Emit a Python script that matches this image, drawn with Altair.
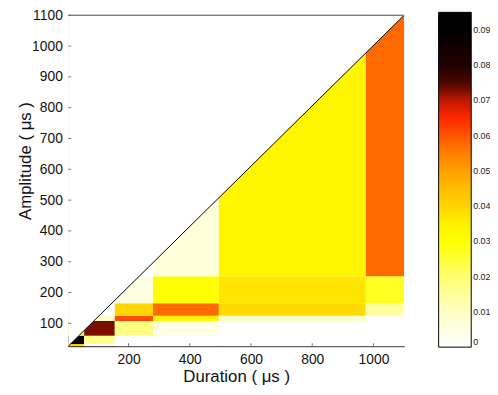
import altair as alt
import pandas as pd

# ---- data ----
x_edges = [3, 55, 155, 280, 495, 975, 1100]           # Duration bin edges
y_edges = [26, 33, 60, 108, 125, 165, 253, 1100]      # Amplitude bin edges

# one list per amplitude bin (bottom -> top), values per duration bin (left -> right)
row_26_33 = [0.041, 0.0, 0.0, 0.0, 0.0, 0.0]
row_33_60 = [0.092, 0.017, 0.0, 0.0, 0.0, 0.0]
row_60_108 = [0.025, 0.073, 0.018, 0.005, 0.0, 0.0]
row_108_125 = [0.0, 0.009, 0.061, 0.033, 0.009, 0.0]
row_125_165 = [0.0, 0.0, 0.040, 0.0575, 0.039, 0.015]
row_165_253 = [0.0, 0.0, 0.005, 0.030, 0.037, 0.027]
row_253_1100 = [0.0, 0.0, 0.0, 0.006, 0.033, 0.0575]
rows = [row_26_33, row_33_60, row_60_108, row_108_125, row_125_165, row_165_253, row_253_1100]

diag_x = [3, 1100]
diag_y = [26, 1100]

x_ticks = [200, 400, 600, 800, 1000]
y_ticks = [100, 200, 300, 400, 500, 600, 700, 800, 900, 1000, 1100]
cbar_ticks = [0.01, 0.02, 0.03, 0.04, 0.05, 0.06, 0.07, 0.08, 0.09]
cbar_labels = [0, 0.01, 0.02, 0.03, 0.04, 0.05, 0.06, 0.07, 0.08, 0.09]
cbar_domain = [0, 0.095]

cmap_stops = [0.0, 0.01, 0.02, 0.03, 0.035, 0.04, 0.045, 0.05, 0.055, 0.06, 0.065, 0.07, 0.075, 0.08, 0.085, 0.09, 0.095]
cmap_colors = ["#ffffff", "#ffffc4", "#ffff70", "#ffff00", "#fff000", "#ffd400", "#ffbc00", "#ffa000",
               "#ff8000", "#ff5500", "#ff2800", "#c01800", "#4a0800", "#200000", "#140000", "#000000", "#000000"]

records = []
for j, row in enumerate(rows):
    for i, v in enumerate(row):
        records.append({"x0": x_edges[i], "x1": x_edges[i + 1],
                        "y0": y_edges[j], "y1": y_edges[j + 1], "v": v})
cells = pd.DataFrame(records)

W, H = 340, 335
FONT = "Liberation Sans"

xs = alt.Scale(domain=[x_edges[0], x_edges[-1]], nice=False, zero=False)
ys = alt.Scale(domain=[y_edges[0], y_edges[-1]], nice=False, zero=False)

x_axis = alt.Axis(values=x_ticks, title="Duration ( μs )", format="d", ticks=False, grid=False,
                  labelPadding=7, labelFontSize=14, titleFontSize=17, titleFontWeight="normal",
                  domainColor="black", labelColor="#111111", titleColor="#111111",
                  titleBaseline="alphabetic", titleY=36)
y_axis = alt.Axis(values=y_ticks, title="Amplitude ( μs )", format="d", ticks=False, grid=False,
                  labelPadding=6, labelFontSize=14, titleFontSize=17, titleFontWeight="normal",
                  domainColor="#333333", labelColor="#111111", titleColor="#111111",
                  titleBaseline="bottom", titleX=-34, titleY=147, titleAlign="center")


def X(f):
    return alt.X(f, type="quantitative", scale=xs, axis=x_axis, title="Duration ( μs )")


def Y(f):
    return alt.Y(f, type="quantitative", scale=ys, axis=y_axis, title="Amplitude ( μs )")


color = alt.Color("v:Q",
                  scale=alt.Scale(domain=cmap_stops, range=cmap_colors, interpolate="rgb"),
                  legend=alt.Legend(orient="none", legendX=375, legendY=-3, title=None,
                                    direction="vertical", gradientLength=H + 4, gradientThickness=33,
                                    gradientStrokeColor="black", gradientStrokeWidth=1,
                                    values=cbar_labels, format=".2~f", labelFontSize=9,
                                    labelOffset=2, labelColor="#222222"))

rects = alt.Chart(cells).mark_rect().encode(x=X("x0"), x2="x1", y=Y("y0"), y2="y1", color=color)

diag = pd.DataFrame({"x": diag_x, "y": diag_y})
blank = alt.Chart(diag).mark_area(color="white", opacity=1).encode(
    x=X("x"), y=Y("y"), y2=alt.datum(y_edges[-1]))
line = alt.Chart(diag).mark_line(color="black", strokeWidth=1).encode(x=X("x"), y=Y("y"))

top = alt.Chart(diag).mark_rule(color="#777777", strokeWidth=1).encode(
    x=alt.value(0), x2=alt.value(W), y=alt.value(0))

xt = alt.Chart(pd.DataFrame({"t": x_ticks})).mark_rule(color="#777777").encode(
    x=X("t"), y=alt.value(H), y2=alt.value(H - 3))
yt = alt.Chart(pd.DataFrame({"t": y_ticks})).mark_rule(color="#777777").encode(
    y=Y("t"), x=alt.value(0), x2=alt.value(3))

main = alt.layer(rects, blank, line, top, xt, yt)

cs = alt.Scale(domain=cbar_domain, nice=False, zero=False, range=[H + 1, -3])
cdf = pd.DataFrame({"c": cbar_ticks})
ctl = alt.Chart(cdf).mark_rule(color="black").encode(
    y=alt.Y("c:Q", scale=cs, axis=None), x=alt.value(375), x2=alt.value(379))
ctr = alt.Chart(cdf).mark_rule(color="black").encode(
    y=alt.Y("c:Q", scale=cs, axis=None), x=alt.value(404), x2=alt.value(408))

chart = alt.layer(main, ctl, ctr).resolve_scale(y="independent").properties(
    width=W, height=H,
    autosize=alt.AutoSizeParams(type="none"),
    padding={"left": 61, "top": 5, "right": 87, "bottom": 42},
).configure(font=FONT).configure_view(stroke=None)

chart.save("out.html", embed_options={"renderer": "svg", "actions": False})
